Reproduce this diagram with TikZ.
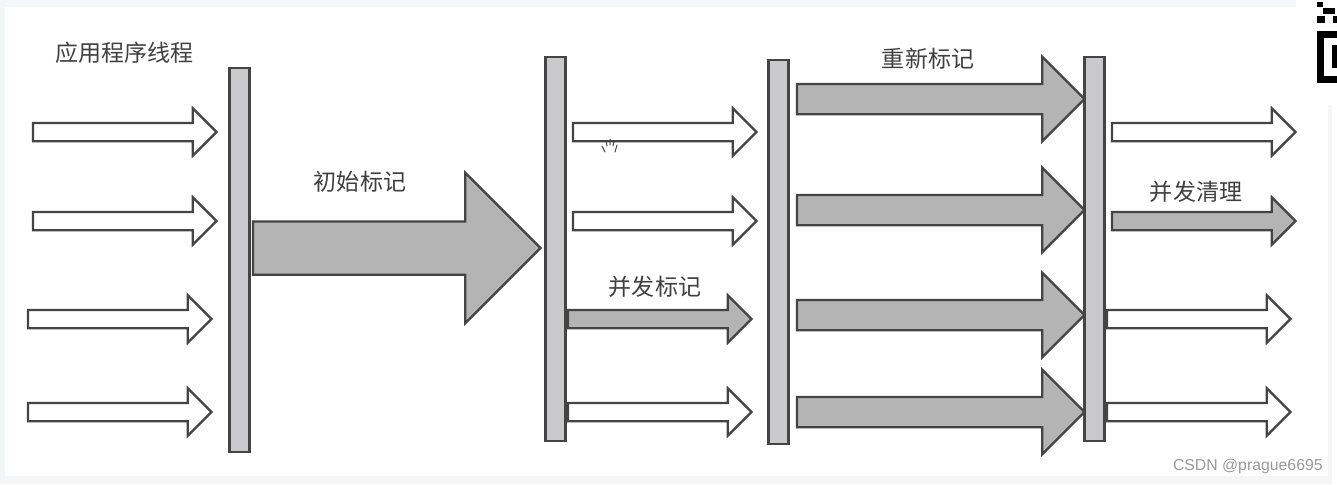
\documentclass[tikz,border=0pt]{standalone}
\usepackage{fontspec}
\setmainfont{Noto Sans CJK SC}
\setsansfont{Liberation Sans}
\usepackage{xcolor}
\usetikzlibrary{shapes,arrows,positioning,fit,calc}
\definecolor{framegray}{HTML}{F5F6F8}
\definecolor{linegray}{HTML}{444444}
\definecolor{bargray}{HTML}{C9C9CB}
\definecolor{markgray}{HTML}{B4B4B4}
\definecolor{notegray}{HTML}{404040}
\definecolor{signgray}{HTML}{9A9A9A}

\begin{document}
\begin{tikzpicture}[
    x=0.02cm, y=-0.02cm,
    pause/.style={rectangle, draw=linegray, fill=bargray, line width=0.045cm, minimum width=0.4cm, minimum height=7.68cm, inner sep=0pt, outer sep=0pt},
    flow/.style={single arrow, draw=linegray, line width=0.045cm, inner sep=0pt, outer sep=0pt, single arrow tip angle=90, single arrow head indent=0pt, text depth=0pt, anchor=tail},
    thread/.style={flow, fill=white, minimum height=3.67cm, text height=0.32cm, single arrow head extend=0.29cm},
    concurrent/.style={thread, fill=markgray},
    remark/.style={flow, fill=markgray, minimum height=5.75cm, text height=0.56cm, single arrow head extend=0.54cm},
    initial/.style={flow, fill=markgray, minimum height=5.75cm, text height=1.02cm, single arrow head extend=0.97cm},
    note/.style={font=\fontsize{13.1}{14}\selectfont, text=notegray, inner sep=0pt}
  ]
    \useasboundingbox (0,0) rectangle (1337,484);
    \fill[framegray] (0,0) rectangle (1337,484);
    \fill[white] (5,7) rectangle (1296,476);
    \fill[white] (1296,0) rectangle (1337,105);
    \fill[white] (1296,105) rectangle (1328,476);
    \fill[white] (1332,105) rectangle (1337,484);

    \fill[black] (1317,31) rectangle (1337,83);
    \fill[white] (1324,38) rectangle (1337,76);
    \fill[black] (1332,45) rectangle (1337,68);
    \fill[black] (1317,2) rectangle (1323,7);
    \fill[black] (1323,8) rectangle (1335,14);
    \fill[black] (1317,16) rectangle (1325,23);
    \fill[black] (1333,16) rectangle (1337,23);

    \node[pause] (stopa) at (239.5,260) {};
    \node[pause] (stopb) at (555.5,249) {};
    \node[pause] (stopc) at (778.5,252) {};
    \node[pause] (stopd) at (1094.5,249) {};

    \node[thread] (appa) at (33,132) {};
    \node[thread] (appb) at (33,221) {};
    \node[thread] (appc) at (28,319) {};
    \node[thread] (appd) at (28,412) {};

    \node[initial] (initmark) at (253,248) {};

    \node[thread] (runa) at (573,132) {};
    \node[thread] (runb) at (573,221) {};
    \node[concurrent] (conmark) at (568,319) {};
    \node[thread] (runc) at (568,412) {};

    \node[remark] (rema) at (797,99) {};
    \node[remark] (remb) at (797,210) {};
    \node[remark] (remc) at (797,315) {};
    \node[remark] (remd) at (797,412) {};

    \node[thread] (usea) at (1112,132) {};
    \node[concurrent] (sweep) at (1112,221) {};
    \node[thread] (useb) at (1107,319) {};
    \node[thread] (usec) at (1107,412) {};

    \node[note] (apptext) at (124.5,53) {应用程序线程};
    \node[note] (inittext) at (360,182) {初始标记};
    \node[note] (context) at (655,287) {并发标记};
    \node[note] (remtext) at (928,59) {重新标记};
    \node[note] (sweeptext) at (1196,192) {并发清理};
    \node[font=\sffamily\fontsize{9}{10}\selectfont, text=signgray, inner sep=0pt, anchor=east] (sign) at (1323,466) {CSDN @prague6695};

    \draw[linegray, line width=0.02cm, line cap=round] (605,152) -- (602,146) (607,146) -- (606,141) (610,145) -- (610,139) (613,146) -- (614,141) (615,152) -- (617,145);
\end{tikzpicture}
\end{document}
